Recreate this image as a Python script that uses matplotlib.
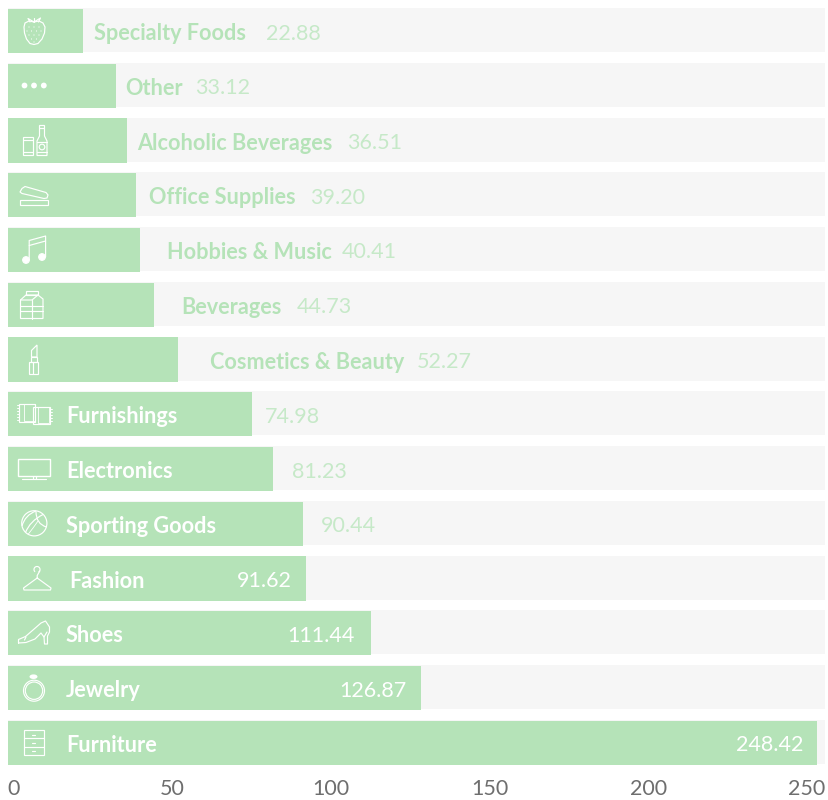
import matplotlib
matplotlib.use("Agg")
import matplotlib.pyplot as plt
import numpy as np
from matplotlib.patches import Arc, Circle, Ellipse, PathPatch, Polygon, Rectangle
from matplotlib.path import Path

categories = ["Specialty Foods", "Other", "Alcoholic Beverages", "Office Supplies",
              "Hobbies & Music", "Beverages", "Cosmetics & Beauty", "Furnishings",
              "Electronics", "Sporting Goods", "Fashion", "Shoes", "Jewelry", "Furniture"]
values = [22.88, 33.12, 36.51, 39.20, 40.41, 44.73, 52.27, 74.98,
          81.23, 90.44, 91.62, 111.44, 126.87, 248.42]
axis_ticks = [0, 50, 100, 150, 200, 250]

# text placement along each row, in figure pixels
name_left = [94, 125, 137, 149, 167, 181, 210, 66, 66, 66, 69, 66, 66, 66]
value_left = [266, 195, 347, 310, 342, 297, 417, 265, 292, 321]
value_right = [292, 355, 407, 803]

BAR = "#b5e3b8"
TRACK = "#f6f6f6"
W, H = 829, 800
PX_PER_UNIT = 3.257
ROW_TOP, ROW_STEP = 31, 54.75

plt.rcParams["font.family"] = ["Lato", "DejaVu Sans"]

fig = plt.figure(figsize=(W / 100, H / 100), dpi=100)
ax = fig.add_axes([8 / W, 1 - 770 / H, 817 / W, 770 / H])
rows = np.arange(len(values))

ax.barh(rows - 0.018, [817 / PX_PER_UNIT] * len(values), height=0.804, color=TRACK, linewidth=0)
ax.barh(rows, values, height=0.804, color=BAR, linewidth=0)
ax.set_xlim(0, 817 / PX_PER_UNIT)
ax.set_ylim((770 - ROW_TOP) / ROW_STEP, -ROW_TOP / ROW_STEP)
ax.set_xticks([])
ax.set_yticks([])
for spine in ax.spines.values():
    spine.set_visible(False)

# the axis labels are spread evenly across the width, so they get their own scale
TICK_PX = 3.172
sec = ax.secondary_xaxis(
    "bottom",
    functions=(lambda x: (8 + PX_PER_UNIT * np.asarray(x) - 14) / TICK_PX,
               lambda t: (14 + TICK_PX * np.asarray(t) - 8) / PX_PER_UNIT),
)
sec.set_xticks(axis_ticks)
sec.tick_params(length=0, pad=6.2, labelsize=15.5, labelcolor="#6e6e6e")
sec.spines["bottom"].set_visible(False)

NUDGE = (0, -1.8)  # points, drops the text onto the row centre
for i, name in enumerate(categories):
    inside = i >= 7
    ax.annotate(name, xy=(name_left[i], i), xycoords=("figure pixels", "data"),
                xytext=NUDGE, textcoords="offset points",
                ha="left", va="center", fontsize=15.6, fontweight="bold",
                color="white" if inside else BAR)
    label = f"{values[i]:.2f}"
    if i < len(value_left):
        ax.annotate(label, xy=(value_left[i], i), xycoords=("figure pixels", "data"),
                    xytext=NUDGE, textcoords="offset points",
                    ha="left", va="center", fontsize=15.5, color="#c6e9c8")
    else:
        ax.annotate(label, xy=(value_right[i - len(value_left)], i),
                    xycoords=("figure pixels", "data"),
                    xytext=NUDGE, textcoords="offset points",
                    ha="right", va="center", fontsize=15.5, color="white")

# icon layer, coordinates are pixels from the top left corner
ic = fig.add_axes([0, 0, 1, 1], facecolor="none")
ic.set_xlim(0, W)
ic.set_ylim(H, 0)
ic.axis("off")
LW = 0.85


def line(*pts, lw=LW):
    xs, ys = zip(*pts)
    ic.plot(xs, ys, color="white", lw=lw, solid_capstyle="round", solid_joinstyle="round")


def curve(start, ctrl, end, lw=LW):
    path = Path([start, ctrl, end], [Path.MOVETO, Path.CURVE3, Path.CURVE3])
    ic.add_patch(PathPatch(path, fill=False, ec="white", lw=lw))


def box(x, y, w, h, lw=LW):
    ic.add_patch(Rectangle((x, y), w, h, fill=False, ec="white", lw=lw))


def ring(x, y, r, lw=LW, fill=False):
    ic.add_patch(Circle((x, y), r, fill=fill, fc="white", ec="white", lw=lw))


# strawberry
ic.add_patch(Polygon([(24, 27), (25, 23), (29, 21), (34, 22), (39, 21), (43, 23), (45, 27),
                      (44.5, 33), (42, 39), (38, 43.5), (34, 44.5), (30, 43.5), (26.5, 39),
                      (24.5, 33)], closed=True, fill=False, ec="white", lw=LW))
line((34, 22), (28, 18.5), (30, 22))
line((34, 22), (40.5, 18), (38.5, 22))
line((34, 22), (34, 17.5))
for dx, dy in [(29, 27), (34, 27), (39, 27), (27, 31), (31.5, 31), (36.5, 31), (41, 31),
               (29, 35), (34, 35), (39, 35), (31.5, 39), (36.5, 39), (34, 42)]:
    ring(dx, dy, 0.3, lw=0.3, fill=True)

# three dots
for dx in (24.5, 34, 43.8):
    ring(dx, 85.5, 2.9, lw=0, fill=True)

# can and bottle
box(23, 137, 10, 18)
line((23, 140), (33, 140))
line((23, 152), (33, 152))
ic.add_patch(Polygon([(39.5, 125.5), (44.5, 125.5), (44.5, 136), (47, 141), (47, 155.5),
                      (37, 155.5), (37, 141), (39.5, 136)], closed=True, fill=False,
                     ec="white", lw=LW))
line((39.5, 128), (44.5, 128))
line((37, 142), (47, 142))
line((37, 152), (47, 152))
ring(42, 147, 2.8)

# stapler
box(20.5, 200, 28, 4.5)
ic.add_patch(Polygon([(20, 192), (22, 188.5), (25, 186.5), (46, 192.5), (48, 195), (47, 198),
                      (44, 198.5), (22, 193.5)], closed=True, fill=False, ec="white", lw=LW))

# music notes
ring(26, 260, 3.3, fill=True)
ring(42, 257, 3.3, fill=True)
line((29.2, 260), (29.2, 240.5), (45.6, 236), (45.6, 257))
line((29.2, 245.5), (45.6, 241))

# milk carton
ic.add_patch(Polygon([(20.5, 300), (26, 295), (38, 295), (43, 299), (43, 318.5), (20.5, 318.5)],
                     closed=True, fill=False, ec="white", lw=LW))
box(26, 290.5, 12, 4.5)
line((20.5, 300), (32, 300), (38, 295))
line((32, 300), (32, 318.5))
line((20.5, 306), (43, 306))
line((20.5, 310.5), (43, 310.5))

# lipstick
box(29.5, 362, 9, 11.5)
box(31, 357, 6, 5)
ic.add_patch(Polygon([(31.5, 357), (31.5, 350.5), (37, 345), (37, 357)], closed=True,
                     fill=False, ec="white", lw=LW))
line((33, 362), (33, 373.5))

# room divider panels
box(19, 403.5, 16, 18)
box(33.5, 407, 17, 16.5)
box(24, 404, 11, 17, lw=0.6)
box(38, 407, 11, 16, lw=0.6)
for fy in np.arange(405, 421, 3):
    line((17.5, fy), (19, fy), lw=0.7)
for fy in np.arange(409, 423, 3):
    line((50.5, fy), (52, fy), lw=0.7)

# television
box(18, 458.5, 32.5, 17, lw=1.0)
line((22.5, 479), (46.5, 479))
line((33, 476), (33, 479))
line((36, 476), (36, 479))

# basketball
ring(34.3, 523.3, 12.6)
curve((25.5, 532.5), (30, 521), (43, 514.5))
curve((22, 526), (25, 515), (36, 511))
curve((36, 511.5), (36, 524), (46.5, 527))
curve((28, 534.5), (34, 527), (38, 521), lw=0.6)

# coat hanger
ic.add_patch(Arc((37, 569.5), 6, 6, theta1=130, theta2=60, ec="white", lw=LW))
line((39.8, 571), (37.2, 575.5), (37.2, 578), (23.5, 588), (24, 590), (50.5, 590), (51, 588),
     (37.2, 578))

# high heel
line((18.5, 643), (18.5, 639.5), (25.5, 636.5), (33, 630), (41, 623), (45.5, 621), (49.5, 627),
     (49.5, 632), (47.5, 636), (47.5, 644), (44.5, 644), (44, 637), (41, 633), (35, 639),
     (26, 642.5), (18.5, 643))
line((24.5, 640), (26, 637))
line((47, 632), (44, 637))

# ring
ring(34, 690.7, 10.5)
ring(34, 690.7, 8.7)
ic.add_patch(Ellipse((33.5, 676.7), 8, 4.6, fc="white", ec="white", lw=0))

# drawers
box(24, 730, 20.5, 25)
line((24, 738), (44.5, 738))
line((24, 746.5), (44.5, 746.5))
for hy in (734.5, 742.7, 751):
    line((32.5, hy), (35.5, hy))

fig.savefig("out.png", dpi=100)
